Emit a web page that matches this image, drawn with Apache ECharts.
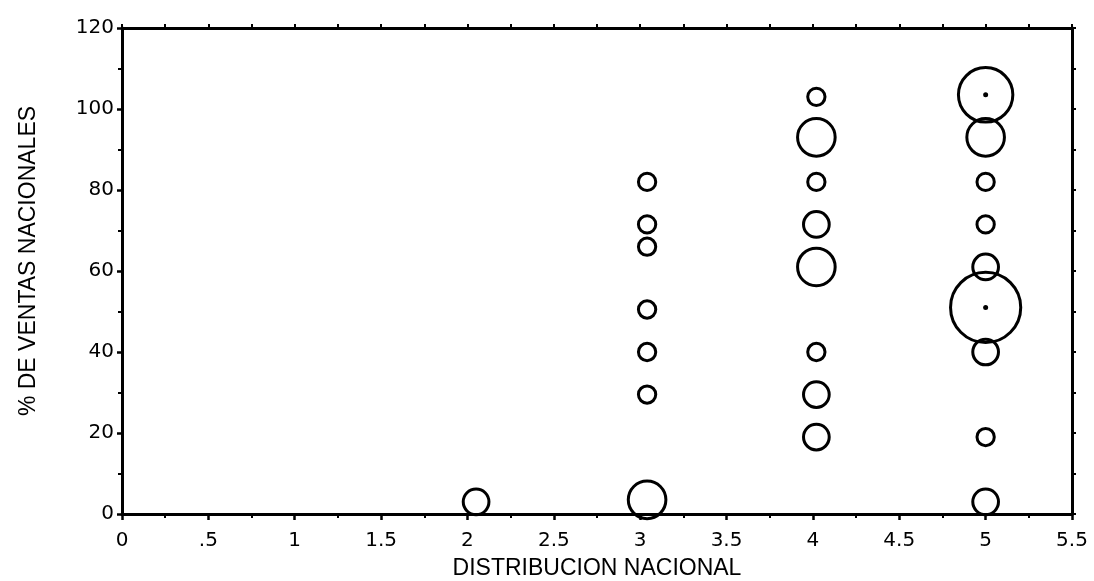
<!DOCTYPE html>
<html>
<head>
<meta charset="utf-8">
<script src="https://cdn.jsdelivr.net/npm/echarts@6/dist/echarts.min.js"></script>
<style>
html,body{margin:0;padding:0;background:#fff;}
#chart{width:1094px;height:581px;}
</style>
</head>
<body>
<div id="chart"></div>
<script>
// Data
const xValues = [2.05, 3.04, 3.04, 3.04, 3.04, 3.04, 3.04, 3.04,
  4.02, 4.02, 4.02, 4.02, 4.02, 4.02, 4.02, 4.02,
  5.0, 5.0, 5.0, 5.0, 5.0, 5.0, 5.0, 5.0, 5.0];
const yValues = [3, 3.5, 82, 71.5, 66, 50.5, 40, 29.5,
  103, 93, 82, 71.5, 61, 40, 29.5, 19,
  103.5, 93, 82, 71.5, 61, 51, 40, 19, 3];
const weights = [2, 4, 1, 1, 1, 1, 1, 1,
  1, 4, 1, 2, 4, 1, 2, 2,
  8, 4, 1, 1, 2, 13, 2, 1, 2];
const xTickLabels = ["0", ".5", "1", "1.5", "2", "2.5", "3", "3.5", "4", "4.5", "5", "5.5"];
const yTickLabels = ["0", "20", "40", "60", "80", "100", "120"];
const xTitle = "DISTRIBUCION NACIONAL";
const yTitle = "% DE VENTAS NACIONALES";

const points = xValues.map((x, i) => [x, yValues[i], weights[i]]);
const centerDots = points.filter(p => p[2] >= 8);

const tickFont = {fontFamily: 'DejaVu Sans', fontSize: 20, fontWeight: 500, color: '#000'};
const nameFont = {fontFamily: 'Liberation Sans', fontSize: 23, color: '#000'};
const lineStyle = {color: '#000', width: 3};

const chart = echarts.init(document.getElementById('chart'), null, {renderer: 'canvas'});
chart.setOption({
  animation: false,
  backgroundColor: '#fff',
  grid: {left: 122, right: 22, top: 28, bottom: 67, outerBoundsMode: 'none', containLabel: false},
  xAxis: [{
    type: 'value', position: 'bottom', min: 0, max: 5.5, interval: 0.5,
    axisLine: {onZero: false, lineStyle: lineStyle},
    axisTick: {show: true, inside: false, length: 6, lineStyle: {color: '#000', width: 2.5}},
    minorTick: {show: true, splitNumber: 2, length: 4, lineStyle: {color: '#000', width: 2}},
    splitLine: {show: false},
    axisLabel: Object.assign({margin: 17, formatter: (v) => xTickLabels[Math.round(v / 0.5)]}, tickFont),
    name: xTitle, nameLocation: 'middle', nameGap: 43, nameTextStyle: nameFont
  }, {
    type: 'value', position: 'top', min: 0, max: 5.5, interval: 0.25,
    axisLine: {onZero: false, lineStyle: lineStyle},
    axisTick: {show: true, inside: false, length: 4, lineStyle: {color: '#000', width: 2}},
    splitLine: {show: false},
    axisLabel: {show: false}
  }],
  yAxis: [{
    type: 'value', position: 'left', min: 0, max: 120, interval: 20,
    axisLine: {onZero: false, lineStyle: lineStyle},
    axisTick: {show: true, inside: false, length: 5, lineStyle: {color: '#000', width: 2.5}},
    minorTick: {show: true, splitNumber: 2, length: 4, lineStyle: {color: '#000', width: 2}},
    splitLine: {show: false},
    axisLabel: Object.assign({margin: 8, formatter: (v) => yTickLabels[Math.round(v / 20)]}, tickFont),
    name: yTitle, nameLocation: 'middle', nameGap: 82, nameRotate: 90,
    nameTextStyle: Object.assign({padding: [0, 0, 0, 20]}, nameFont)
  }, {
    type: 'value', position: 'right', min: 0, max: 120, interval: 10,
    axisLine: {onZero: false, lineStyle: lineStyle},
    axisTick: {show: true, inside: false, length: 4, lineStyle: {color: '#000', width: 2}},
    splitLine: {show: false},
    axisLabel: {show: false}
  }],
  series: [{
    type: 'scatter',
    xAxisIndex: 0, yAxisIndex: 0,
    data: points,
    symbol: 'circle',
    symbolSize: (d) => 20.3 * Math.sqrt(d[2]) - 3,
    itemStyle: {color: 'rgba(0,0,0,0)', borderColor: '#000', borderWidth: 3, opacity: 1},
    emphasis: {disabled: true},
    z: 3
  }, {
    type: 'scatter',
    xAxisIndex: 0, yAxisIndex: 0,
    data: centerDots,
    symbol: 'circle',
    symbolSize: 5,
    itemStyle: {color: '#000', opacity: 1},
    emphasis: {disabled: true},
    z: 4
  }]
});
</script>
</body>
</html>
